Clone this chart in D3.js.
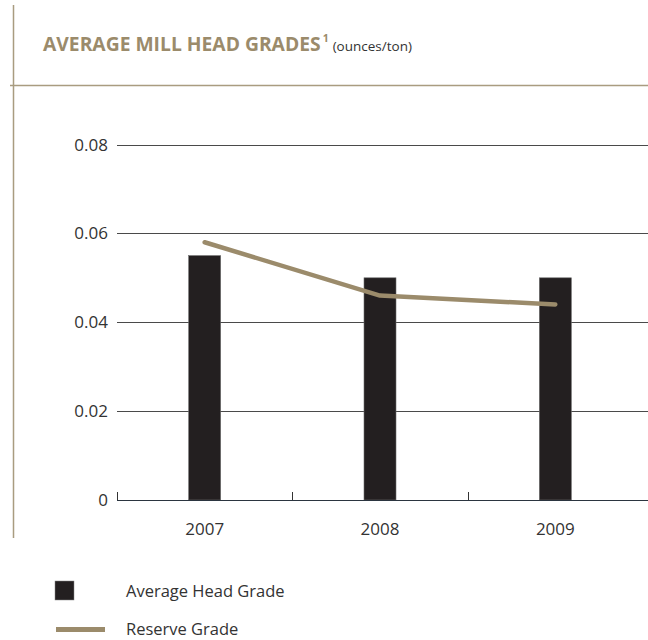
<!DOCTYPE html>
<html><head><meta charset="utf-8">
<script src="https://cdn.jsdelivr.net/npm/d3@7"></script>
<style>html,body{margin:0;padding:0;background:#fff;}svg{display:block;font-family:"Open Sans",sans-serif;}</style>
</head><body>
<svg id="chart" width="648" height="640"></svg>
<script>
const years = ["2007", "2008", "2009"];
const headGrade = [0.055, 0.050, 0.050];
const reserveGrade = [0.058, 0.046, 0.044];
const yTicks = [0, 0.02, 0.04, 0.06, 0.08];
const yTickLabels = ["0", "0.02", "0.04", "0.06", "0.08"];
const seriesNames = ["Average Head Grade", "Reserve Grade"];

const svg = d3.select("#chart");
const gold = "#9b8b6b";

// frame lines
svg.append("line").attr("x1", 13.5).attr("x2", 13.5).attr("y1", 5).attr("y2", 538)
  .attr("stroke", "#a99c80").attr("stroke-width", 1.5);
svg.append("line").attr("x1", 10).attr("x2", 648).attr("y1", 85.5).attr("y2", 85.5)
  .attr("stroke", "#a99c80").attr("stroke-width", 1.5);

// title
const t1 = svg.append("text").attr("x", 43).attr("y", 51)
  .attr("font-size", 19.3).attr("font-weight", 700).attr("fill", gold)
  .text("AVERAGE MILL HEAD GRADES");
const tEnd = 43 + t1.node().getComputedTextLength();
svg.append("text").attr("x", tEnd + 2).attr("y", 42).attr("font-size", 10.5).attr("font-weight", 700)
  .attr("fill", gold).text("1");
svg.append("text").attr("x", tEnd + 12).attr("y", 51).attr("font-size", 13.5).attr("fill", "#333")
  .text("(ounces/ton)");

const x = d3.scaleBand().domain(years).range([117, 643]);
const y = d3.scaleLinear().domain([0, 0.08]).range([500, 144.5]);

// gridlines
svg.append("g").selectAll("line").data(yTicks.slice(1)).join("line")
  .attr("x1", 117).attr("x2", 648).attr("y1", d => Math.round(y(d)) + 0.5).attr("y2", d => Math.round(y(d)) + 0.5)
  .attr("stroke", "#4a4a4a").attr("stroke-width", 1);

// y labels
svg.append("g").selectAll("text").data(yTicks).join("text")
  .attr("x", 108).attr("y", d => y(d)).attr("dy", "0.36em").attr("text-anchor", "end")
  .attr("font-size", 17).attr("fill", "#333")
  .text((d, i) => yTickLabels[i]);

// bars
const bw = 32;
svg.append("g").selectAll("rect").data(years).join("rect")
  .attr("x", d => x(d) + x.bandwidth() / 2 - bw / 2)
  .attr("y", (d, i) => y(headGrade[i]))
  .attr("width", bw)
  .attr("height", (d, i) => y(0) - y(headGrade[i]))
  .attr("fill", "#231f20").attr("stroke", "#6d6d6d").attr("stroke-width", 0.6);

// x axis baseline and ticks
svg.append("line").attr("x1", 117).attr("x2", 648).attr("y1", 500.5).attr("y2", 500.5)
  .attr("stroke", "#2b3540").attr("stroke-width", 1.2);
const bounds = [117, x("2008"), x("2009")];
svg.append("g").selectAll("line").data(bounds).join("line")
  .attr("x1", d => Math.round(d) + 0.5).attr("x2", d => Math.round(d) + 0.5)
  .attr("y1", 492).attr("y2", 500).attr("stroke", "#333").attr("stroke-width", 1);

// x labels
svg.append("g").selectAll("text").data(years).join("text")
  .attr("x", d => x(d) + x.bandwidth() / 2).attr("y", 535).attr("text-anchor", "middle")
  .attr("font-size", 17).attr("fill", "#333").text(d => d);

// reserve line
const line = d3.line().x((d, i) => x(years[i]) + x.bandwidth() / 2).y(d => y(d));
svg.append("path").datum(reserveGrade).attr("d", line)
  .attr("fill", "none").attr("stroke", gold).attr("stroke-width", 4.5)
  .attr("stroke-linecap", "round").attr("stroke-linejoin", "round");

// legend
svg.append("rect").attr("x", 55).attr("y", 581).attr("width", 19).attr("height", 19)
  .attr("fill", "#231f20").attr("stroke", "#888").attr("stroke-width", 0.5);
svg.append("line").attr("x1", 56).attr("x2", 105).attr("y1", 629.5).attr("y2", 629.5)
  .attr("stroke", gold).attr("stroke-width", 5);
svg.append("text").attr("x", 126).attr("y", 597).attr("font-size", 16.5).attr("fill", "#333").text(seriesNames[0]);
svg.append("text").attr("x", 126).attr("y", 635).attr("font-size", 16.5).attr("fill", "#333").text(seriesNames[1]);
</script>
</body></html>
